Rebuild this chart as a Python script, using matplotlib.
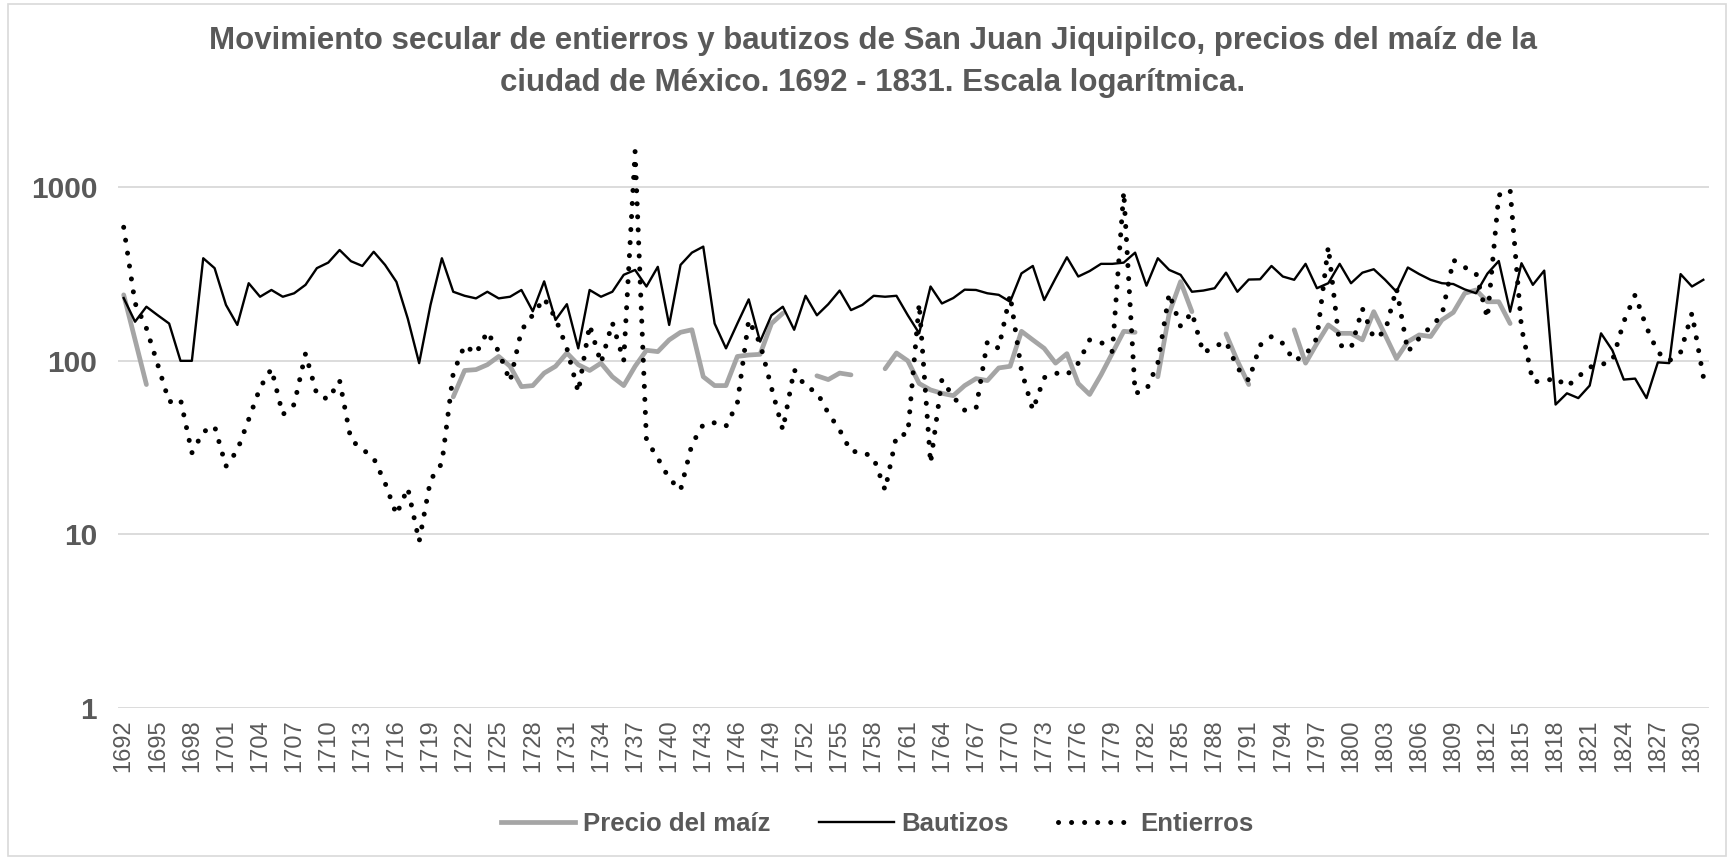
import numpy as np
import matplotlib
matplotlib.use("Agg")
from matplotlib import pyplot as plt
from matplotlib.lines import Line2D
from matplotlib.patches import Rectangle

plt.rcParams['font.family'] = ['Liberation Sans', 'DejaVu Sans']

years = np.arange(1692, 1832)

# Bautizos (one value per year)
bautizos = [230, 168, 205, 183, 164, 100, 100, 390, 342, 210,
            161, 280, 234, 256, 234, 245, 274, 342, 368, 435,
            375, 352, 425, 357, 285, 175, 97, 210, 390, 250,
            237, 229, 250, 229, 234, 256, 193, 287, 172, 212,
            118, 256, 234, 250, 313, 334, 268, 348, 161, 357,
            420, 455, 164, 118, 164, 226, 129, 183, 205, 151,
            237, 183, 212, 254, 196, 210, 237, 234, 237, 183,
            144, 268, 214, 230, 257, 256, 245, 240, 219, 319,
            352, 224, 299, 395, 306, 329, 362, 362, 368, 420,
            271, 390, 334, 313, 250, 254, 262, 322, 250, 294,
            295, 352, 306, 293, 362, 262, 280, 362, 280, 322,
            337, 293, 250, 345, 316, 293, 280, 277, 258, 245,
            318, 376, 192, 365, 274, 331, 56, 65, 61, 72,
            144, 115, 78, 79, 61, 98, 97, 316, 268, 293]

# Entierros
entierros = [588, 215, 154, 95, 58, 60, 29.5, 39, 42, 24.7,
             30.5, 46, 70, 90, 49, 56, 110, 64, 60, 77,
             35, 31, 27.5, 19.8, 13, 18.5, 9.1, 20.6, 25.7, 85,
             123, 110, 147, 113, 76, 150, 184, 229, 176, 118,
             66, 161, 97, 166, 100, 1607, 35, 27.5, 21, 18,
             33, 43, 44, 42, 57, 172, 126, 70, 40, 89,
             71, 66, 50, 40, 30, 30, 27.5, 18, 37, 38,
             214, 25.7, 78, 62, 52, 53, 129, 118, 240, 88,
             52, 80, 85, 83, 97, 132, 128, 113, 944, 65,
             68, 97, 245, 158, 190, 111, 121, 129, 91, 77,
             123, 138, 126, 100, 108, 135, 455, 123, 118, 200,
             135, 147, 262, 113, 135, 157, 183, 381, 346, 319,
             176, 900, 965, 155, 76, 76, 80, 71, 81, 92,
             95, 100, 168, 240, 156, 112, 100, 112, 188, 81]

# Precio del maiz (None = sin dato)
N = None
precio = [240, 132, 73, N, N, N, N, N, N, N,
          N, N, N, N, N, N, N, N, N, N,
          N, N, N, N, N, N, N, N, N, 62,
          88, 89, 95, 106, 93, 71, 72, 85, 93, 111,
          95, 88, 97, 81, 72, 93, 115, 113, 132, 146,
          151, 81, 72, 72, 106, 108, 109, 164, 188, N,
          N, 82, 78, 85, 83, N, N, 90, 111, 100,
          74, 68, 65, 63, 72, 79, 77, 91, 93, 148,
          132, 118, 97, 110, 74, 64, 83, 111, 148, 146,
          N, 81, 188, 286, 192, N, N, 143, 100, 73,
          N, N, N, 151, 97, 126, 161, 144, 144, 132,
          192, 141, 103, 129, 141, 138, 172, 190, 245, 256,
          219, 219, 164, N, N, N, N, N, N, N,
          N, N, N, N, N, N, N, N, N, N]

precio = np.array([np.nan if v is None else v for v in precio], dtype=float)

txt = '#595959'
dots = (0, (0.01, 2.6))

fig = plt.figure(figsize=(17.34, 8.59), dpi=100)
ax = fig.add_axes([118/1734, 1-708/859, (1709-118)/1734, (708-135)/859])

ax.plot(years, precio, color='#A5A5A5', lw=3.4, solid_capstyle='round')
ax.plot(years, bautizos, color='black', lw=1.7)
ax.plot(years, entierros, color='black', lw=3.6, linestyle=dots, dash_capstyle='round')

ax.set_yscale('log')
ax.set_ylim(1, 2000)
ax.set_xlim(1691.5, 1831.5)
ax.set_yticks([1, 10, 100, 1000])
ax.set_yticklabels(['1', '10', '100', '1000'], fontsize=21.5, fontweight='bold', color=txt)
ax.yaxis.set_minor_locator(matplotlib.ticker.NullLocator())
ax.set_xticks(years[::3])
ax.set_xticklabels([str(y) for y in years[::3]], rotation=90, fontsize=17, color=txt)
ax.tick_params(axis='both', length=0)
ax.tick_params(axis='y', pad=15)
ax.tick_params(axis='x', pad=8)
ax.grid(axis='y', color='#D9D9D9', lw=1.3)
ax.set_axisbelow(True)
for s in ax.spines.values():
    s.set_visible(False)

fig.text(873/1734, 1-62/859,
         'Movimiento secular de entierros y bautizos de San Juan Jiquipilco, precios del maíz de la\n'
         'ciudad de México. 1692 - 1831. Escala logarítmica.',
         ha='center', va='center', fontsize=22.5, fontweight='bold', color=txt, linespacing=1.5)

handles = [Line2D([], [], color='#A5A5A5', lw=3.4),
           Line2D([], [], color='black', lw=1.7),
           Line2D([], [], color='black', lw=3.6, linestyle=dots, dash_capstyle='round')]
leg = fig.legend(handles, ['Precio del maíz', 'Bautizos', 'Entierros'],
                 loc='center', bbox_to_anchor=(877/1734, 1-824/859), ncol=3, frameon=False,
                 handlelength=2.9, handletextpad=0.3, columnspacing=1.9,
                 prop={'size': 18.5, 'weight': 'bold'})
for t in leg.get_texts():
    t.set_color(txt)

fig.patches.append(Rectangle((8/1734, 3/859), 1718/1734, 852/859, transform=fig.transFigure,
                             fill=False, edgecolor='#D9D9D9', lw=1.2))

fig.savefig('out.png', dpi=100)
